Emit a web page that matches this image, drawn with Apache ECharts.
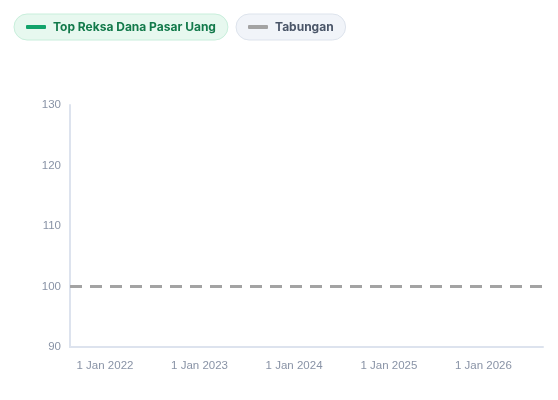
<!DOCTYPE html>
<html>
<head>
<meta charset="utf-8">
<script src="https://cdn.jsdelivr.net/npm/echarts@6/dist/echarts.min.js"></script>
<style>
html,body{margin:0;padding:0;background:#fff;}
#c{width:558px;height:400px;}
</style>
</head>
<body>
<div id="c"></div>
<script>
const seriesNames = ['Top Reksa Dana Pasar Uang', 'Tabungan'];
const rdpuDates = ['2021-08-19', '2021-08-23'];
const rdpuValues = [100, 100];
const tabunganDates = ['2021-08-19', '2022-08-19', '2023-08-19', '2024-08-19', '2025-08-19', '2026-08-19'];
const tabunganValues = [100, 100, 100, 100, 100, 100];
const yTicks = [90, 100, 110, 120, 130];
const monthNames = ['Jan','Feb','Mar','Apr','May','Jun','Jul','Aug','Sep','Oct','Nov','Dec'];

const chart = echarts.init(document.getElementById('c'));
const legendBase = {
  orient: 'horizontal',
  top: 14,
  padding: [7, 12, 7, 12],
  itemWidth: 20,
  itemHeight: 4,
  icon: 'roundRect',
  borderWidth: 1,
  borderRadius: 14,
  selectedMode: false
};
chart.setOption({
  animation: false,
  legend: [
    Object.assign({}, legendBase, {
      left: 14,
      data: [seriesNames[0]],
      backgroundColor: '#e7f8ef',
      borderColor: '#c8eedb',
      textStyle: { color: '#137a4b', fontWeight: 700, fontSize: 12, fontFamily: 'Inter', padding: [0, 0, 0, 2] }
    }),
    Object.assign({}, legendBase, {
      left: 236,
      data: [seriesNames[1]],
      backgroundColor: '#f1f4f9',
      borderColor: '#dde3ec',
      textStyle: { color: '#4a5568', fontWeight: 700, fontSize: 12, fontFamily: 'Inter', padding: [0, 0, 0, 2] }
    })
  ],
  grid: { left: 70, right: 15, top: 105, bottom: 53 },
  xAxis: {
    type: 'time',
    min: 'dataMin',
    max: 'dataMax',
    minInterval: 365 * 24 * 3600 * 1000,
    axisLine: { show: true, lineStyle: { color: '#dde3ee', width: 2 } },
    axisTick: { show: false },
    splitLine: { show: false },
    axisLabel: {
      color: '#8993a6',
      fontSize: 11.5,
      fontFamily: 'Liberation Sans, Arial, sans-serif',
      margin: 13,
      hideOverlap: false,
      showMinLabel: false,
      showMaxLabel: false,
      formatter: function (val) {
        const d = new Date(val);
        if (d.getMonth() !== 0 || d.getDate() !== 1) return '';
        return d.getDate() + ' ' + monthNames[d.getMonth()] + ' ' + d.getFullYear();
      }
    }
  },
  yAxis: {
    type: 'value',
    min: yTicks[0],
    max: yTicks[yTicks.length - 1],
    interval: 10,
    axisLine: { show: true, lineStyle: { color: '#dde3ee', width: 2 } },
    axisTick: { show: false },
    splitLine: { show: false },
    axisLabel: {
      color: '#8993a6',
      fontSize: 11.5,
      fontFamily: 'Liberation Sans, Arial, sans-serif',
      margin: 9
    }
  },
  series: [
    {
      name: seriesNames[0],
      type: 'line',
      showSymbol: false,
      symbol: 'none',
      itemStyle: { color: '#12a36b' },
      lineStyle: { color: '#12a36b', width: 3 },
      data: rdpuDates.map((d, i) => [d, rdpuValues[i]]),
      z: 2
    },
    {
      name: seriesNames[1],
      type: 'line',
      showSymbol: false,
      symbol: 'none',
      itemStyle: { color: '#a3a3a3' },
      lineStyle: { color: '#a3a3a3', width: 3, type: [12, 8] },
      data: tabunganDates.map((d, i) => [d, tabunganValues[i]]),
      z: 3
    }
  ]
});
</script>
</body>
</html>
